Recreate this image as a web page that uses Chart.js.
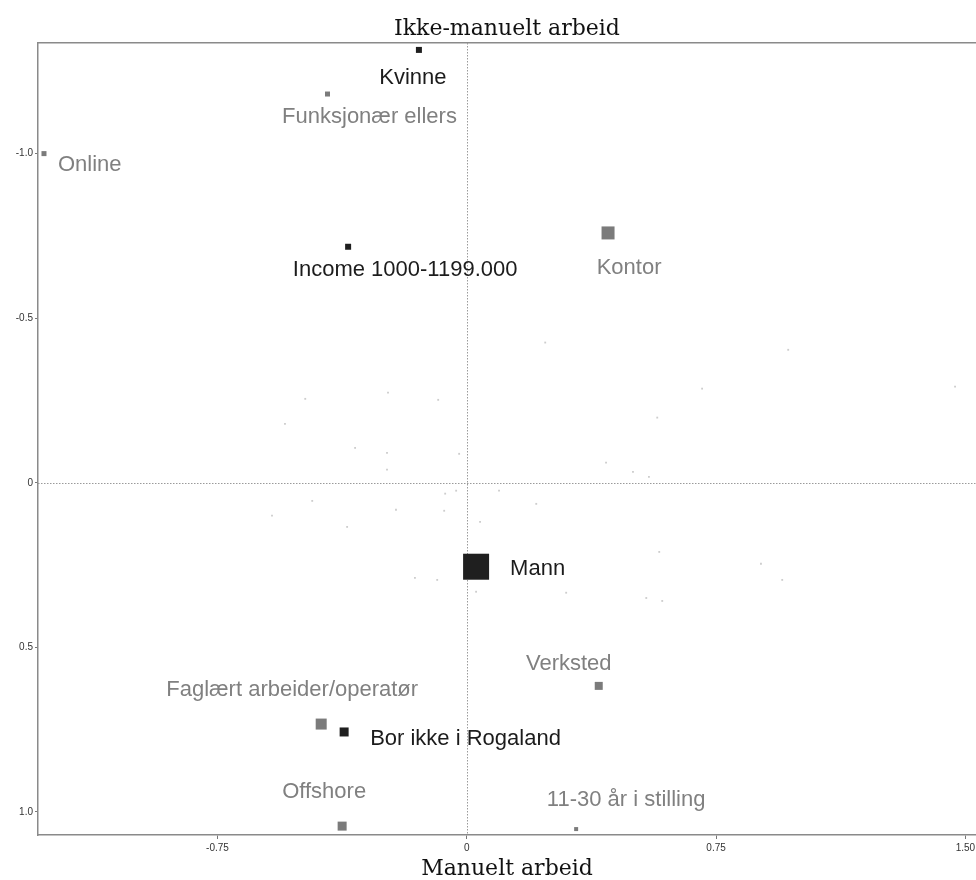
<!DOCTYPE html>
<html>
<head>
<meta charset="utf-8">
<title>Manuelt / ikke-manuelt arbeid</title>
<script src="https://cdn.jsdelivr.net/npm/chart.js@4/dist/chart.umd.min.js"></script>
<style>
  html, body { margin: 0; padding: 0; background: #ffffff; overflow: hidden; }
  #wrap { width: 976px; height: 880px; }
  #c { display: block; }
</style>
</head>
<body>
<div id="wrap"><canvas id="c" width="976" height="880"></canvas></div>
<script>
// ---- data -------------------------------------------------------------
// Active categories with their coordinates on the two dimensions
const categories = [
  'Kvinne', 'Funksjonær ellers', 'Online', 'Income 1000-1199.000', 'Kontor',
  'Mann', 'Verksted', 'Faglært arbeider/operatør', 'Bor ikke i Rogaland',
  'Offshore', '11-30 år i stilling'
];
const dim1 = [-0.144, -0.419, -1.272, -0.357, 0.425, 0.028, 0.397, -0.438, -0.369, -0.375, 0.329];
const dim2 = [-1.315, -1.181, -1.000, -0.717, -0.759, 0.255, 0.617, 0.733, 0.757, 1.043, 1.052];

// Remaining (unlabelled) categories
const otherDim1 = [-0.486, -0.237, -0.086, -0.547, -0.336, -0.240, -0.240, -0.023, 0.236, 0.419,
  0.500, 0.548, 0.708, 0.967, 1.469, 0.573, -0.465, -0.586, -0.360, -0.213, -0.068, -0.065,
  -0.032, 0.097, 0.209, 0.040, -0.156, -0.089, 0.028, 0.299, 0.579, 0.885, 0.949, 0.540, 0.588];
const otherDim2 = [-0.255, -0.274, -0.252, -0.179, -0.106, -0.091, -0.040, -0.088, -0.426, -0.061,
  -0.033, -0.018, -0.286, -0.404, -0.292, -0.198, 0.055, 0.100, 0.134, 0.082, 0.085, 0.033,
  0.024, 0.024, 0.064, 0.119, 0.289, 0.295, 0.331, 0.334, 0.210, 0.246, 0.295, 0.350, 0.359];

// Axis ticks
const xTickValues = [-0.75, 0, 0.75, 1.5];
const xTickLabels = ['-0.75', '0', '0.75', '1.50'];
const yTickValues = [-1, -0.5, 0, 0.5, 1];
const yTickLabels = ['-1.0', '-0.5', '0', '0.5', '1.0'];

// ---- styling ----------------------------------------------------------
const DARK = '#1f1f1f';
const GREY = '#7b7b7b';
const DARK_TEXT = '#1c1c1c';
const GREY_TEXT = '#808080';

// marker side (px), tone and label placement per category
const look = {
  'Kvinne':                    { side: 6,  tone: 'dark', dx: -6,  dy: 28, align: 'center' },
  'Funksjonær ellers':         { side: 5,  tone: 'grey', dx: 42,  dy: 23, align: 'center' },
  'Online':                    { side: 5,  tone: 'grey', dx: 14,  dy: 11, align: 'left' },
  'Income 1000-1199.000':      { side: 6,  tone: 'dark', dx: 57,  dy: 23, align: 'center' },
  'Kontor':                    { side: 13, tone: 'grey', dx: 21,  dy: 35, align: 'center' },
  'Mann':                      { side: 26, tone: 'dark', dx: 34,  dy: 2,  align: 'left' },
  'Verksted':                  { side: 8,  tone: 'grey', dx: -30, dy: -22, align: 'center' },
  'Faglært arbeider/operatør': { side: 11, tone: 'grey', dx: -29, dy: -34, align: 'center' },
  'Bor ikke i Rogaland':       { side: 9,  tone: 'dark', dx: 26,  dy: 7,  align: 'left' },
  'Offshore':                  { side: 9,  tone: 'grey', dx: -18, dy: -34, align: 'center' },
  '11-30 år i stilling':       { side: 4,  tone: 'grey', dx: 50,  dy: -29, align: 'center' }
};

const LABEL_FONT = '22px "Liberation Sans", Arial, sans-serif';
const TICK_FONT = { family: '"Liberation Sans Narrow", "Liberation Sans", sans-serif', size: 10 };
const TITLE_FONT = { family: '"DejaVu Serif", "Liberation Serif", serif', size: 22 };

// ---- plugins ----------------------------------------------------------
// dotted reference lines through the origin
const originLines = {
  id: 'originLines',
  beforeDatasetsDraw(chart) {
    const { ctx, chartArea: a, scales } = chart;
    const x0 = scales.x.getPixelForValue(0);
    const y0 = scales.y.getPixelForValue(0);
    ctx.save();
    ctx.strokeStyle = '#9a9a9a';
    ctx.lineWidth = 1;
    ctx.setLineDash([1.5, 1.5]);
    ctx.beginPath();
    ctx.moveTo(a.left, Math.round(y0) + 0.5);
    ctx.lineTo(a.right, Math.round(y0) + 0.5);
    ctx.moveTo(Math.round(x0) + 0.5, a.top);
    ctx.lineTo(Math.round(x0) + 0.5, a.bottom);
    ctx.stroke();
    ctx.restore();
  }
};

// category names next to their markers
const categoryLabels = {
  id: 'categoryLabels',
  afterDatasetsDraw(chart) {
    const meta = chart.getDatasetMeta(1);
    const { ctx } = chart;
    ctx.save();
    ctx.font = LABEL_FONT;
    ctx.textBaseline = 'middle';
    meta.data.forEach((pt, i) => {
      const name = categories[i];
      const s = look[name];
      ctx.fillStyle = s.tone === 'dark' ? DARK_TEXT : GREY_TEXT;
      ctx.textAlign = s.align;
      ctx.fillText(name, pt.x + s.dx, pt.y + s.dy);
    });
    ctx.restore();
  }
};

// ---- chart ------------------------------------------------------------
const mainPoints = categories.map((c, i) => ({ x: dim1[i], y: dim2[i] }));
const otherPoints = otherDim1.map((v, i) => ({ x: v, y: otherDim2[i] }));

// the horizontal axes run right to the canvas edge
const flushHorizontal = (height) => (s) => {
  s.height = height;
  s.paddingLeft = 0;
  s.paddingRight = 0;
};

new Chart(document.getElementById('c'), {
  type: 'scatter',
  data: {
    datasets: [
      {
        label: 'Øvrige kategorier',
        data: otherPoints,
        pointStyle: 'rect',
        pointRadius: 1.3,
        pointBackgroundColor: '#cdcdcd',
        pointBorderWidth: 0,
        clip: false
      },
      {
        label: 'Kategorier',
        data: mainPoints,
        pointStyle: 'rect',
        pointRadius: categories.map(c => look[c].side / Math.SQRT2),
        pointBackgroundColor: categories.map(c => look[c].tone === 'dark' ? DARK : GREY),
        pointBorderWidth: 0,
        clip: false
      }
    ]
  },
  options: {
    responsive: false,
    animation: false,
    devicePixelRatio: 1,
    layout: { padding: 0, autoPadding: false },
    plugins: {
      legend: { display: false },
      tooltip: { enabled: false },
      title: { display: false }
    },
    scales: {
      x: {
        type: 'linear',
        position: 'bottom',
        min: -1.290,
        max: 1.532,
        afterBuildTicks: s => { s.ticks = xTickValues.map(v => ({ value: v })); },
        afterFit: flushHorizontal(45),
        ticks: {
          autoSkip: false,
          maxRotation: 0,
          padding: 3,
          color: '#333',
          font: TICK_FONT,
          callback: (v, i) => xTickLabels[i]
        },
        grid: { drawOnChartArea: false, drawTicks: true, tickLength: 4, color: '#777', lineWidth: 1 },
        border: { display: true, color: '#8a8a8a', width: 1.5 },
        title: {
          display: true,
          text: 'Manuelt arbeid',
          color: '#111',
          font: TITLE_FONT,
          padding: { top: 0, bottom: -2 }
        }
      },
      xTop: {
        type: 'linear',
        position: 'top',
        min: -1.290,
        max: 1.532,
        afterFit: flushHorizontal(43),
        ticks: { display: false },
        grid: { display: false, drawTicks: false },
        border: { display: true, color: '#8a8a8a', width: 1.5 },
        title: {
          display: true,
          text: 'Ikke-manuelt arbeid',
          color: '#111',
          font: TITLE_FONT,
          padding: { top: 16, bottom: 0 }
        }
      },
      y: {
        type: 'linear',
        position: 'left',
        reverse: true,
        min: -1.336,
        max: 1.070,
        afterBuildTicks: s => { s.ticks = yTickValues.map(v => ({ value: v })); },
        afterFit: s => { s.width = 38; },
        ticks: {
          autoSkip: false,
          padding: 2,
          color: '#333',
          font: TICK_FONT,
          callback: (v, i) => yTickLabels[i]
        },
        grid: { drawOnChartArea: false, drawTicks: true, tickLength: 3, color: '#777', lineWidth: 1 },
        border: { display: true, color: '#8a8a8a', width: 1.5 }
      }
    }
  },
  plugins: [originLines, categoryLabels]
});
</script>
</body>
</html>
